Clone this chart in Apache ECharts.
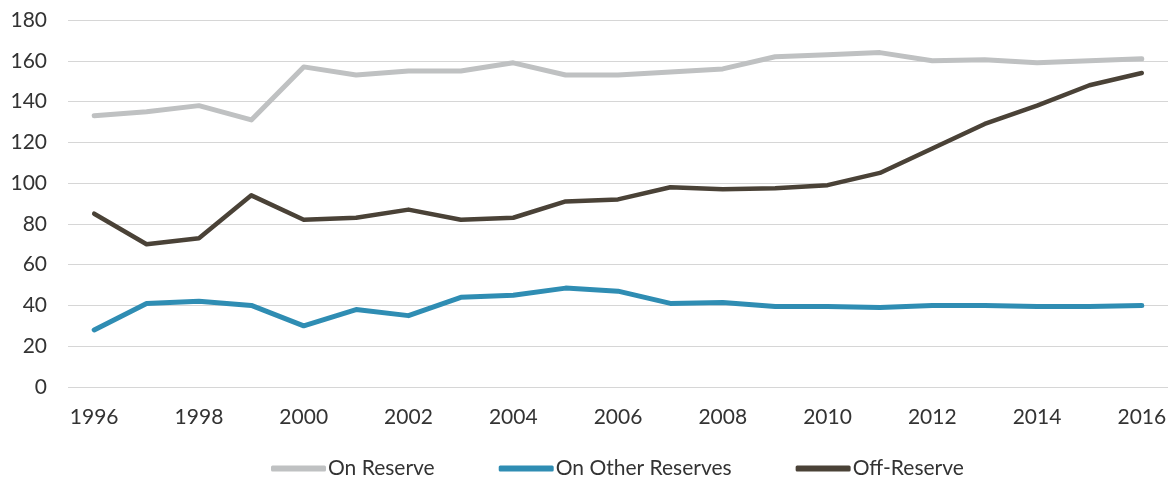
<!DOCTYPE html>
<html>
<head>
<meta charset="utf-8">
<script src="https://cdn.jsdelivr.net/npm/echarts@6/dist/echarts.min.js"></script>
<style>html,body{margin:0;padding:0;background:#fff;}#c{width:1171px;height:484px;}</style>
</head>
<body>
<div id="c"></div>
<script>
const years = ['1996','1997','1998','1999','2000','2001','2002','2003','2004','2005','2006','2007','2008','2009','2010','2011','2012','2013','2014','2015','2016'];
const onReserve = [133,135,138,131,157,153,155,155,159,153,153,154.5,156,162,163,164,160,160.5,159,160,161];
const onOtherReserves = [28,41,42,40,30,38,35,44,45,48.5,47,41,41.5,39.5,39.5,39,40,40,39.5,39.5,40];
const offReserve = [85,70,73,94,82,83,87,82,83,91,92,98,97,97.5,99,105,117,129,138,148,154];
const seriesNames = ['On Reserve','On Other Reserves','Off-Reserve'];
const yTicks = {min:0, max:180, interval:20};

const chart = echarts.init(document.getElementById('c'));
const font = 'Lato, "Open Sans", sans-serif';
function mk(name, data, color, width){
  return {name, type:'line', data, symbol:'none', smooth:false,
    lineStyle:{color, width, cap:'round', join:'round'}, itemStyle:{color}};
}
chart.setOption({
  animation:false,
  backgroundColor:'#fff',
  grid:{left:68, right:3, top:20, bottom:97},
  xAxis:{type:'category', data:years, boundaryGap:true,
    axisLine:{show:false}, axisTick:{show:false},
    axisLabel:{interval:1, color:'#333', fontSize:21, fontFamily:font, margin:20}},
  yAxis:{type:'value', min:yTicks.min, max:yTicks.max, interval:yTicks.interval,
    axisLine:{show:false}, axisTick:{show:false},
    axisLabel:{color:'#333', fontSize:21, fontFamily:font, margin:21},
    splitLine:{lineStyle:{color:'#d6d6d6', width:1}}},
  legend:{bottom:0, left:266, itemWidth:55, itemHeight:6, itemGap:64, icon:'roundRect',
    textStyle:{color:'#333', fontSize:21, fontFamily:font, padding:[0,0,0,-3]},
    data:seriesNames},
  series:[
    mk(seriesNames[0], onReserve, '#bfc1c2', 5),
    mk(seriesNames[1], onOtherReserves, '#2f8db3', 5),
    mk(seriesNames[2], offReserve, '#4a4237', 4.5)
  ]
});
</script>
</body>
</html>
